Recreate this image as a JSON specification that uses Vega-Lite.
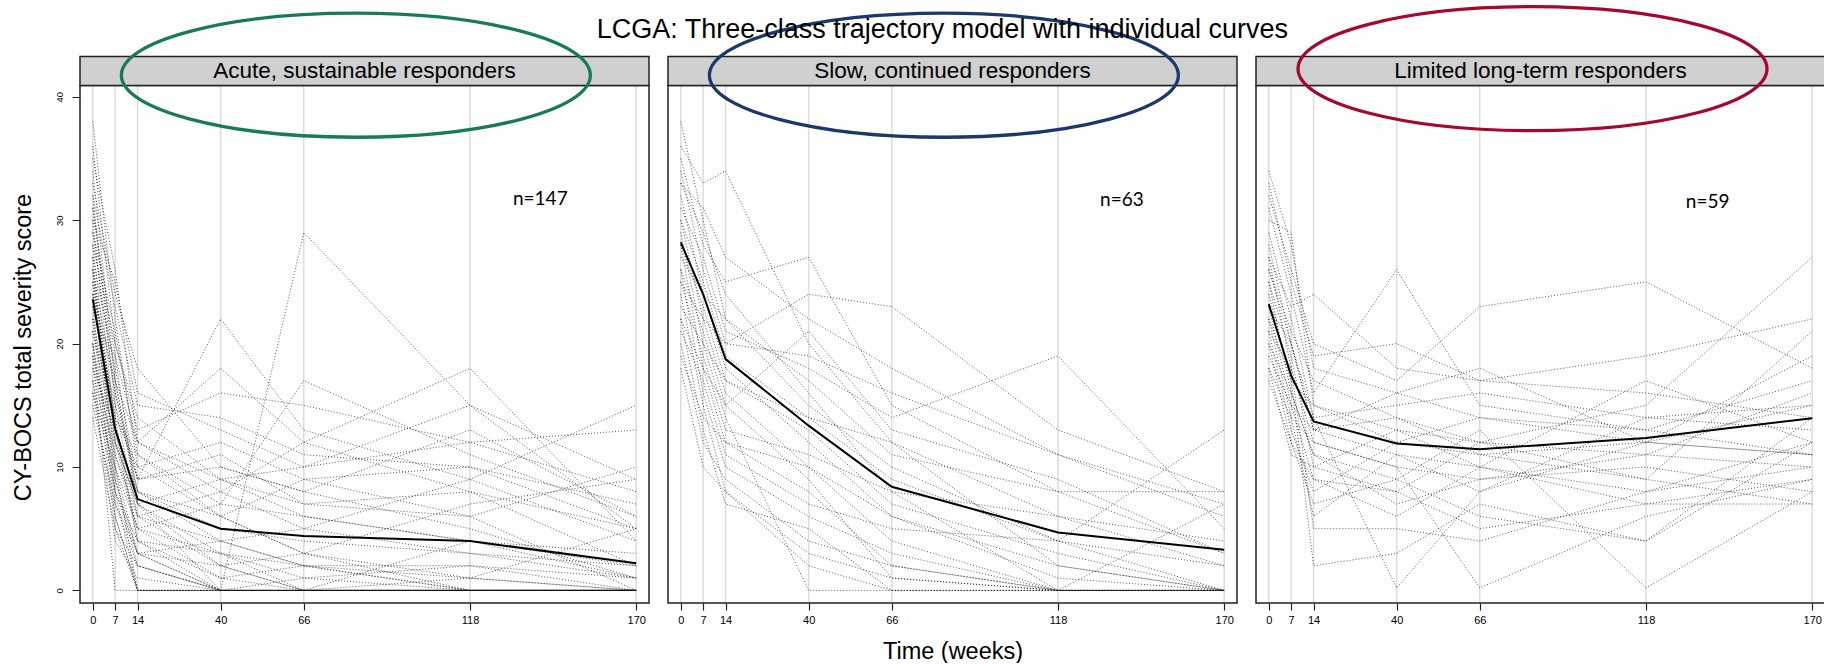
{
"$schema":"https://vega.github.io/schema/vega-lite/v6.json",
"padding":{"left":11,"top":0,"right":0,"bottom":0},
"autosize":{"type":"pad"},
"bounds":"flush",
"spacing":19,
"title":{"text":"LCGA: Three-class trajectory model with individual curves","font":"Liberation Sans","fontSize":27,"fontWeight":"normal","color":"#000","anchor":"middle","offset":-44,"dx":24},
"config":{"view":{"stroke":null},"font":"Liberation Sans"},
"datasets":{
"ticks":[{"t":0},{"t":7},{"t":14},{"t":40},{"t":66},{"t":118},{"t":170}],
"info":[{"c":1,"label":"Acute, sustainable responders","n":"n=147"},{"c":2,"label":"Slow, continued responders","n":"n=63"},{"c":3,"label":"Limited long-term responders","n":"n=59"}],
"mean":[
{"c":1,"t":0,"y":23.6},{"c":1,"t":7,"y":13.1},{"c":1,"t":14,"y":7.4},{"c":1,"t":40,"y":5.0},{"c":1,"t":66,"y":4.4},{"c":1,"t":118,"y":4.0},{"c":1,"t":170,"y":2.2},
{"c":2,"t":0,"y":28.2},{"c":2,"t":7,"y":24.0},{"c":2,"t":14,"y":18.75},{"c":2,"t":40,"y":13.35},{"c":2,"t":66,"y":8.4},{"c":2,"t":118,"y":4.7},{"c":2,"t":170,"y":3.3},
{"c":3,"t":0,"y":23.2},{"c":3,"t":7,"y":17.4},{"c":3,"t":14,"y":13.7},{"c":3,"t":40,"y":11.9},{"c":3,"t":66,"y":11.45},{"c":3,"t":118,"y":12.35},{"c":3,"t":170,"y":13.95}],
"ind":[
{"c":1,"id":1,"t":0,"y":38},{"c":1,"id":1,"t":7,"y":22},{"c":1,"id":1,"t":14,"y":10},{"c":1,"id":1,"t":40,"y":6},{"c":1,"id":1,"t":66,"y":3},{"c":1,"id":1,"t":118,"y":1},{"c":1,"id":1,"t":170,"y":0},
{"c":1,"id":2,"t":0,"y":36},{"c":1,"id":2,"t":7,"y":20},{"c":1,"id":2,"t":14,"y":14},{"c":1,"id":2,"t":40,"y":9},{"c":1,"id":2,"t":66,"y":6},{"c":1,"id":2,"t":118,"y":4},{"c":1,"id":2,"t":170,"y":2},
{"c":1,"id":3,"t":0,"y":34},{"c":1,"id":3,"t":7,"y":17},{"c":1,"id":3,"t":14,"y":8},{"c":1,"id":3,"t":40,"y":4},{"c":1,"id":3,"t":66,"y":2},{"c":1,"id":3,"t":118,"y":0},{"c":1,"id":3,"t":170,"y":0},
{"c":1,"id":4,"t":0,"y":33},{"c":1,"id":4,"t":7,"y":24},{"c":1,"id":4,"t":14,"y":18},{"c":1,"id":4,"t":40,"y":10},{"c":1,"id":4,"t":66,"y":8},{"c":1,"id":4,"t":118,"y":5},{"c":1,"id":4,"t":170,"y":1},
{"c":1,"id":5,"t":0,"y":32},{"c":1,"id":5,"t":7,"y":15},{"c":1,"id":5,"t":14,"y":6},{"c":1,"id":5,"t":40,"y":2},{"c":1,"id":5,"t":66,"y":0},{"c":1,"id":5,"t":118,"y":0},{"c":1,"id":5,"t":170,"y":0},
{"c":1,"id":6,"t":0,"y":31},{"c":1,"id":6,"t":7,"y":19},{"c":1,"id":6,"t":14,"y":12},{"c":1,"id":6,"t":40,"y":18},{"c":1,"id":6,"t":66,"y":12},{"c":1,"id":6,"t":118,"y":8},{"c":1,"id":6,"t":170,"y":5},
{"c":1,"id":7,"t":0,"y":30},{"c":1,"id":7,"t":7,"y":13},{"c":1,"id":7,"t":14,"y":4},{"c":1,"id":7,"t":40,"y":0},{"c":1,"id":7,"t":66,"y":0},{"c":1,"id":7,"t":118,"y":0},{"c":1,"id":7,"t":170,"y":0},
{"c":1,"id":8,"t":0,"y":29},{"c":1,"id":8,"t":7,"y":21},{"c":1,"id":8,"t":14,"y":11},{"c":1,"id":8,"t":40,"y":7},{"c":1,"id":8,"t":66,"y":17},{"c":1,"id":8,"t":118,"y":11},{"c":1,"id":8,"t":170,"y":6},
{"c":1,"id":9,"t":0,"y":28},{"c":1,"id":9,"t":7,"y":12},{"c":1,"id":9,"t":14,"y":7},{"c":1,"id":9,"t":40,"y":0},{"c":1,"id":9,"t":66,"y":29},{"c":1,"id":9,"t":118,"y":15},{"c":1,"id":9,"t":170,"y":5},
{"c":1,"id":10,"t":0,"y":27},{"c":1,"id":10,"t":7,"y":18},{"c":1,"id":10,"t":14,"y":9},{"c":1,"id":10,"t":40,"y":22},{"c":1,"id":10,"t":66,"y":13},{"c":1,"id":10,"t":118,"y":9},{"c":1,"id":10,"t":170,"y":4},
{"c":1,"id":11,"t":0,"y":27},{"c":1,"id":11,"t":7,"y":10},{"c":1,"id":11,"t":14,"y":0},{"c":1,"id":11,"t":40,"y":0},{"c":1,"id":11,"t":66,"y":0},{"c":1,"id":11,"t":118,"y":0},{"c":1,"id":11,"t":170,"y":0},
{"c":1,"id":12,"t":0,"y":26},{"c":1,"id":12,"t":7,"y":16},{"c":1,"id":12,"t":14,"y":8},{"c":1,"id":12,"t":40,"y":5},{"c":1,"id":12,"t":66,"y":4},{"c":1,"id":12,"t":118,"y":3},{"c":1,"id":12,"t":170,"y":1},
{"c":1,"id":13,"t":0,"y":26},{"c":1,"id":13,"t":7,"y":9},{"c":1,"id":13,"t":14,"y":3},{"c":1,"id":13,"t":40,"y":0},{"c":1,"id":13,"t":66,"y":0},{"c":1,"id":13,"t":118,"y":0},{"c":1,"id":13,"t":170,"y":0},
{"c":1,"id":14,"t":0,"y":25},{"c":1,"id":14,"t":7,"y":14},{"c":1,"id":14,"t":14,"y":10},{"c":1,"id":14,"t":40,"y":12},{"c":1,"id":14,"t":66,"y":9},{"c":1,"id":14,"t":118,"y":10},{"c":1,"id":14,"t":170,"y":7},
{"c":1,"id":15,"t":0,"y":25},{"c":1,"id":15,"t":7,"y":8},{"c":1,"id":15,"t":14,"y":0},{"c":1,"id":15,"t":40,"y":0},{"c":1,"id":15,"t":66,"y":0},{"c":1,"id":15,"t":118,"y":0},{"c":1,"id":15,"t":170,"y":0},
{"c":1,"id":16,"t":0,"y":24},{"c":1,"id":16,"t":7,"y":17},{"c":1,"id":16,"t":14,"y":12},{"c":1,"id":16,"t":40,"y":8},{"c":1,"id":16,"t":66,"y":12},{"c":1,"id":16,"t":118,"y":18},{"c":1,"id":16,"t":170,"y":4},
{"c":1,"id":17,"t":0,"y":24},{"c":1,"id":17,"t":7,"y":11},{"c":1,"id":17,"t":14,"y":5},{"c":1,"id":17,"t":40,"y":3},{"c":1,"id":17,"t":66,"y":1},{"c":1,"id":17,"t":118,"y":0},{"c":1,"id":17,"t":170,"y":0},
{"c":1,"id":18,"t":0,"y":23},{"c":1,"id":18,"t":7,"y":7},{"c":1,"id":18,"t":14,"y":2},{"c":1,"id":18,"t":40,"y":0},{"c":1,"id":18,"t":66,"y":0},{"c":1,"id":18,"t":118,"y":0},{"c":1,"id":18,"t":170,"y":0},
{"c":1,"id":19,"t":0,"y":23},{"c":1,"id":19,"t":7,"y":15},{"c":1,"id":19,"t":14,"y":9},{"c":1,"id":19,"t":40,"y":11},{"c":1,"id":19,"t":66,"y":7},{"c":1,"id":19,"t":118,"y":6},{"c":1,"id":19,"t":170,"y":10},
{"c":1,"id":20,"t":0,"y":22},{"c":1,"id":20,"t":7,"y":13},{"c":1,"id":20,"t":14,"y":6},{"c":1,"id":20,"t":40,"y":4},{"c":1,"id":20,"t":66,"y":5},{"c":1,"id":20,"t":118,"y":9},{"c":1,"id":20,"t":170,"y":15},
{"c":1,"id":21,"t":0,"y":22},{"c":1,"id":21,"t":7,"y":6},{"c":1,"id":21,"t":14,"y":0},{"c":1,"id":21,"t":40,"y":0},{"c":1,"id":21,"t":66,"y":0},{"c":1,"id":21,"t":118,"y":0},{"c":1,"id":21,"t":170,"y":0},
{"c":1,"id":22,"t":0,"y":21},{"c":1,"id":22,"t":7,"y":12},{"c":1,"id":22,"t":14,"y":7},{"c":1,"id":22,"t":40,"y":9},{"c":1,"id":22,"t":66,"y":10},{"c":1,"id":22,"t":118,"y":12},{"c":1,"id":22,"t":170,"y":13},
{"c":1,"id":23,"t":0,"y":21},{"c":1,"id":23,"t":7,"y":14},{"c":1,"id":23,"t":14,"y":4},{"c":1,"id":23,"t":40,"y":1},{"c":1,"id":23,"t":66,"y":0},{"c":1,"id":23,"t":118,"y":4},{"c":1,"id":23,"t":170,"y":1},
{"c":1,"id":24,"t":0,"y":20},{"c":1,"id":24,"t":7,"y":10},{"c":1,"id":24,"t":14,"y":3},{"c":1,"id":24,"t":40,"y":2},{"c":1,"id":24,"t":66,"y":3},{"c":1,"id":24,"t":118,"y":0},{"c":1,"id":24,"t":170,"y":0},
{"c":1,"id":25,"t":0,"y":20},{"c":1,"id":25,"t":7,"y":5},{"c":1,"id":25,"t":14,"y":0},{"c":1,"id":25,"t":40,"y":0},{"c":1,"id":25,"t":66,"y":0},{"c":1,"id":25,"t":118,"y":0},{"c":1,"id":25,"t":170,"y":0},
{"c":1,"id":26,"t":0,"y":19},{"c":1,"id":26,"t":7,"y":11},{"c":1,"id":26,"t":14,"y":6},{"c":1,"id":26,"t":40,"y":8},{"c":1,"id":26,"t":66,"y":5},{"c":1,"id":26,"t":118,"y":3},{"c":1,"id":26,"t":170,"y":2},
{"c":1,"id":27,"t":0,"y":19},{"c":1,"id":27,"t":7,"y":0},{"c":1,"id":27,"t":14,"y":0},{"c":1,"id":27,"t":40,"y":0},{"c":1,"id":27,"t":66,"y":0},{"c":1,"id":27,"t":118,"y":0},{"c":1,"id":27,"t":170,"y":0},
{"c":1,"id":28,"t":0,"y":18},{"c":1,"id":28,"t":7,"y":9},{"c":1,"id":28,"t":14,"y":2},{"c":1,"id":28,"t":40,"y":0},{"c":1,"id":28,"t":66,"y":1},{"c":1,"id":28,"t":118,"y":2},{"c":1,"id":28,"t":170,"y":0},
{"c":1,"id":29,"t":0,"y":18},{"c":1,"id":29,"t":7,"y":13},{"c":1,"id":29,"t":14,"y":8},{"c":1,"id":29,"t":40,"y":6},{"c":1,"id":29,"t":66,"y":3},{"c":1,"id":29,"t":118,"y":7},{"c":1,"id":29,"t":170,"y":9},
{"c":1,"id":30,"t":0,"y":17},{"c":1,"id":30,"t":7,"y":8},{"c":1,"id":30,"t":14,"y":4},{"c":1,"id":30,"t":40,"y":3},{"c":1,"id":30,"t":66,"y":0},{"c":1,"id":30,"t":118,"y":0},{"c":1,"id":30,"t":170,"y":0},
{"c":1,"id":31,"t":0,"y":17},{"c":1,"id":31,"t":7,"y":4},{"c":1,"id":31,"t":14,"y":1},{"c":1,"id":31,"t":40,"y":0},{"c":1,"id":31,"t":66,"y":0},{"c":1,"id":31,"t":118,"y":0},{"c":1,"id":31,"t":170,"y":0},
{"c":1,"id":32,"t":0,"y":16},{"c":1,"id":32,"t":7,"y":10},{"c":1,"id":32,"t":14,"y":5},{"c":1,"id":32,"t":40,"y":7},{"c":1,"id":32,"t":66,"y":6},{"c":1,"id":32,"t":118,"y":4},{"c":1,"id":32,"t":170,"y":3},
{"c":1,"id":33,"t":0,"y":16},{"c":1,"id":33,"t":7,"y":6},{"c":1,"id":33,"t":14,"y":0},{"c":1,"id":33,"t":40,"y":0},{"c":1,"id":33,"t":66,"y":0},{"c":1,"id":33,"t":118,"y":0},{"c":1,"id":33,"t":170,"y":0},
{"c":1,"id":34,"t":0,"y":15},{"c":1,"id":34,"t":7,"y":7},{"c":1,"id":34,"t":14,"y":3},{"c":1,"id":34,"t":40,"y":4},{"c":1,"id":34,"t":66,"y":2},{"c":1,"id":34,"t":118,"y":1},{"c":1,"id":34,"t":170,"y":0},
{"c":1,"id":35,"t":0,"y":14},{"c":1,"id":35,"t":7,"y":5},{"c":1,"id":35,"t":14,"y":2},{"c":1,"id":35,"t":40,"y":0},{"c":1,"id":35,"t":66,"y":0},{"c":1,"id":35,"t":118,"y":0},{"c":1,"id":35,"t":170,"y":0},
{"c":1,"id":36,"t":0,"y":30},{"c":1,"id":36,"t":7,"y":25},{"c":1,"id":36,"t":14,"y":16},{"c":1,"id":36,"t":40,"y":13},{"c":1,"id":36,"t":66,"y":10},{"c":1,"id":36,"t":118,"y":15},{"c":1,"id":36,"t":170,"y":9},
{"c":1,"id":37,"t":0,"y":28},{"c":1,"id":37,"t":7,"y":20},{"c":1,"id":37,"t":14,"y":13},{"c":1,"id":37,"t":40,"y":16},{"c":1,"id":37,"t":66,"y":15},{"c":1,"id":37,"t":118,"y":12},{"c":1,"id":37,"t":170,"y":8},
{"c":1,"id":38,"t":0,"y":32},{"c":1,"id":38,"t":7,"y":23},{"c":1,"id":38,"t":14,"y":15},{"c":1,"id":38,"t":40,"y":14},{"c":1,"id":38,"t":66,"y":11},{"c":1,"id":38,"t":118,"y":10},{"c":1,"id":38,"t":170,"y":5},
{"c":1,"id":39,"t":0,"y":35},{"c":1,"id":39,"t":7,"y":26},{"c":1,"id":39,"t":14,"y":12},{"c":1,"id":39,"t":40,"y":9},{"c":1,"id":39,"t":66,"y":7},{"c":1,"id":39,"t":118,"y":8},{"c":1,"id":39,"t":170,"y":2},
{"c":1,"id":40,"t":0,"y":29},{"c":1,"id":40,"t":7,"y":16},{"c":1,"id":40,"t":14,"y":9},{"c":1,"id":40,"t":40,"y":10},{"c":1,"id":40,"t":66,"y":8},{"c":1,"id":40,"t":118,"y":13},{"c":1,"id":40,"t":170,"y":6},
{"c":1,"id":41,"t":0,"y":24},{"c":1,"id":41,"t":7,"y":14},{"c":1,"id":41,"t":14,"y":11},{"c":1,"id":41,"t":40,"y":6},{"c":1,"id":41,"t":66,"y":9},{"c":1,"id":41,"t":118,"y":6},{"c":1,"id":41,"t":170,"y":0},
{"c":1,"id":42,"t":0,"y":22},{"c":1,"id":42,"t":7,"y":19},{"c":1,"id":42,"t":14,"y":7},{"c":1,"id":42,"t":40,"y":2},{"c":1,"id":42,"t":66,"y":0},{"c":1,"id":42,"t":118,"y":1},{"c":1,"id":42,"t":170,"y":5},
{"c":1,"id":43,"t":0,"y":20},{"c":1,"id":43,"t":7,"y":8},{"c":1,"id":43,"t":14,"y":3},{"c":1,"id":43,"t":40,"y":0},{"c":1,"id":43,"t":66,"y":0},{"c":1,"id":43,"t":118,"y":0},{"c":1,"id":43,"t":170,"y":0},
{"c":1,"id":44,"t":0,"y":26},{"c":1,"id":44,"t":7,"y":12},{"c":1,"id":44,"t":14,"y":5},{"c":1,"id":44,"t":40,"y":1},{"c":1,"id":44,"t":66,"y":2},{"c":1,"id":44,"t":118,"y":0},{"c":1,"id":44,"t":170,"y":0},
{"c":1,"id":45,"t":0,"y":31},{"c":1,"id":45,"t":7,"y":17},{"c":1,"id":45,"t":14,"y":7},{"c":1,"id":45,"t":40,"y":3},{"c":1,"id":45,"t":66,"y":2},{"c":1,"id":45,"t":118,"y":2},{"c":1,"id":45,"t":170,"y":1},
{"c":2,"id":1,"t":0,"y":38},{"c":2,"id":1,"t":7,"y":30},{"c":2,"id":1,"t":14,"y":22},{"c":2,"id":1,"t":40,"y":15},{"c":2,"id":1,"t":66,"y":10},{"c":2,"id":1,"t":118,"y":4},{"c":2,"id":1,"t":170,"y":0},
{"c":2,"id":2,"t":0,"y":36},{"c":2,"id":2,"t":7,"y":33},{"c":2,"id":2,"t":14,"y":34},{"c":2,"id":2,"t":40,"y":20},{"c":2,"id":2,"t":66,"y":12},{"c":2,"id":2,"t":118,"y":6},{"c":2,"id":2,"t":170,"y":2},
{"c":2,"id":3,"t":0,"y":35},{"c":2,"id":3,"t":7,"y":28},{"c":2,"id":3,"t":14,"y":25},{"c":2,"id":3,"t":40,"y":27},{"c":2,"id":3,"t":66,"y":15},{"c":2,"id":3,"t":118,"y":8},{"c":2,"id":3,"t":170,"y":3},
{"c":2,"id":4,"t":0,"y":34},{"c":2,"id":4,"t":7,"y":26},{"c":2,"id":4,"t":14,"y":20},{"c":2,"id":4,"t":40,"y":24},{"c":2,"id":4,"t":66,"y":23},{"c":2,"id":4,"t":118,"y":13},{"c":2,"id":4,"t":170,"y":8},
{"c":2,"id":5,"t":0,"y":33},{"c":2,"id":5,"t":7,"y":29},{"c":2,"id":5,"t":14,"y":24},{"c":2,"id":5,"t":40,"y":16},{"c":2,"id":5,"t":66,"y":8},{"c":2,"id":5,"t":118,"y":0},{"c":2,"id":5,"t":170,"y":0},
{"c":2,"id":6,"t":0,"y":32},{"c":2,"id":6,"t":7,"y":24},{"c":2,"id":6,"t":14,"y":18},{"c":2,"id":6,"t":40,"y":12},{"c":2,"id":6,"t":66,"y":6},{"c":2,"id":6,"t":118,"y":2},{"c":2,"id":6,"t":170,"y":0},
{"c":2,"id":7,"t":0,"y":31},{"c":2,"id":7,"t":7,"y":27},{"c":2,"id":7,"t":14,"y":21},{"c":2,"id":7,"t":40,"y":18},{"c":2,"id":7,"t":66,"y":14},{"c":2,"id":7,"t":118,"y":19},{"c":2,"id":7,"t":170,"y":5},
{"c":2,"id":8,"t":0,"y":30},{"c":2,"id":8,"t":7,"y":22},{"c":2,"id":8,"t":14,"y":16},{"c":2,"id":8,"t":40,"y":10},{"c":2,"id":8,"t":66,"y":4},{"c":2,"id":8,"t":118,"y":0},{"c":2,"id":8,"t":170,"y":0},
{"c":2,"id":9,"t":0,"y":30},{"c":2,"id":9,"t":7,"y":25},{"c":2,"id":9,"t":14,"y":19},{"c":2,"id":9,"t":40,"y":14},{"c":2,"id":9,"t":66,"y":9},{"c":2,"id":9,"t":118,"y":4},{"c":2,"id":9,"t":170,"y":13},
{"c":2,"id":10,"t":0,"y":29},{"c":2,"id":10,"t":7,"y":20},{"c":2,"id":10,"t":14,"y":14},{"c":2,"id":10,"t":40,"y":0},{"c":2,"id":10,"t":66,"y":0},{"c":2,"id":10,"t":118,"y":0},{"c":2,"id":10,"t":170,"y":0},
{"c":2,"id":11,"t":0,"y":28},{"c":2,"id":11,"t":7,"y":23},{"c":2,"id":11,"t":14,"y":17},{"c":2,"id":11,"t":40,"y":13},{"c":2,"id":11,"t":66,"y":7},{"c":2,"id":11,"t":118,"y":3},{"c":2,"id":11,"t":170,"y":0},
{"c":2,"id":12,"t":0,"y":28},{"c":2,"id":12,"t":7,"y":18},{"c":2,"id":12,"t":14,"y":12},{"c":2,"id":12,"t":40,"y":8},{"c":2,"id":12,"t":66,"y":2},{"c":2,"id":12,"t":118,"y":0},{"c":2,"id":12,"t":170,"y":0},
{"c":2,"id":13,"t":0,"y":27},{"c":2,"id":13,"t":7,"y":24},{"c":2,"id":13,"t":14,"y":22},{"c":2,"id":13,"t":40,"y":17},{"c":2,"id":13,"t":66,"y":11},{"c":2,"id":13,"t":118,"y":8},{"c":2,"id":13,"t":170,"y":8},
{"c":2,"id":14,"t":0,"y":26},{"c":2,"id":14,"t":7,"y":21},{"c":2,"id":14,"t":14,"y":15},{"c":2,"id":14,"t":40,"y":9},{"c":2,"id":14,"t":66,"y":1},{"c":2,"id":14,"t":118,"y":0},{"c":2,"id":14,"t":170,"y":7},
{"c":2,"id":15,"t":0,"y":26},{"c":2,"id":15,"t":7,"y":16},{"c":2,"id":15,"t":14,"y":10},{"c":2,"id":15,"t":40,"y":6},{"c":2,"id":15,"t":66,"y":3},{"c":2,"id":15,"t":118,"y":0},{"c":2,"id":15,"t":170,"y":0},
{"c":2,"id":16,"t":0,"y":25},{"c":2,"id":16,"t":7,"y":22},{"c":2,"id":16,"t":14,"y":20},{"c":2,"id":16,"t":40,"y":19},{"c":2,"id":16,"t":66,"y":16},{"c":2,"id":16,"t":118,"y":11},{"c":2,"id":16,"t":170,"y":6},
{"c":2,"id":17,"t":0,"y":25},{"c":2,"id":17,"t":7,"y":19},{"c":2,"id":17,"t":14,"y":13},{"c":2,"id":17,"t":40,"y":11},{"c":2,"id":17,"t":66,"y":8},{"c":2,"id":17,"t":118,"y":6},{"c":2,"id":17,"t":170,"y":4},
{"c":2,"id":18,"t":0,"y":24},{"c":2,"id":18,"t":7,"y":15},{"c":2,"id":18,"t":14,"y":8},{"c":2,"id":18,"t":40,"y":3},{"c":2,"id":18,"t":66,"y":1},{"c":2,"id":18,"t":118,"y":0},{"c":2,"id":18,"t":170,"y":0},
{"c":2,"id":19,"t":0,"y":23},{"c":2,"id":19,"t":7,"y":20},{"c":2,"id":19,"t":14,"y":17},{"c":2,"id":19,"t":40,"y":14},{"c":2,"id":19,"t":66,"y":12},{"c":2,"id":19,"t":118,"y":2},{"c":2,"id":19,"t":170,"y":0},
{"c":2,"id":20,"t":0,"y":22},{"c":2,"id":20,"t":7,"y":13},{"c":2,"id":20,"t":14,"y":7},{"c":2,"id":20,"t":40,"y":5},{"c":2,"id":20,"t":66,"y":0},{"c":2,"id":20,"t":118,"y":0},{"c":2,"id":20,"t":170,"y":0},
{"c":2,"id":21,"t":0,"y":22},{"c":2,"id":21,"t":7,"y":18},{"c":2,"id":21,"t":14,"y":15},{"c":2,"id":21,"t":40,"y":21},{"c":2,"id":21,"t":66,"y":13},{"c":2,"id":21,"t":118,"y":9},{"c":2,"id":21,"t":170,"y":3},
{"c":2,"id":22,"t":0,"y":21},{"c":2,"id":22,"t":7,"y":17},{"c":2,"id":22,"t":14,"y":11},{"c":2,"id":22,"t":40,"y":7},{"c":2,"id":22,"t":66,"y":5},{"c":2,"id":22,"t":118,"y":4},{"c":2,"id":22,"t":170,"y":2},
{"c":2,"id":23,"t":0,"y":20},{"c":2,"id":23,"t":7,"y":12},{"c":2,"id":23,"t":14,"y":9},{"c":2,"id":23,"t":40,"y":4},{"c":2,"id":23,"t":66,"y":2},{"c":2,"id":23,"t":118,"y":0},{"c":2,"id":23,"t":170,"y":0},
{"c":2,"id":24,"t":0,"y":19},{"c":2,"id":24,"t":7,"y":14},{"c":2,"id":24,"t":14,"y":12},{"c":2,"id":24,"t":40,"y":10},{"c":2,"id":24,"t":66,"y":6},{"c":2,"id":24,"t":118,"y":1},{"c":2,"id":24,"t":170,"y":0},
{"c":2,"id":25,"t":0,"y":18},{"c":2,"id":25,"t":7,"y":10},{"c":2,"id":25,"t":14,"y":8},{"c":2,"id":25,"t":40,"y":2},{"c":2,"id":25,"t":66,"y":0},{"c":2,"id":25,"t":118,"y":0},{"c":2,"id":25,"t":170,"y":0},
{"c":2,"id":26,"t":0,"y":33},{"c":2,"id":26,"t":7,"y":31},{"c":2,"id":26,"t":14,"y":27},{"c":2,"id":26,"t":40,"y":22},{"c":2,"id":26,"t":66,"y":18},{"c":2,"id":26,"t":118,"y":11},{"c":2,"id":26,"t":170,"y":7},
{"c":3,"id":1,"t":0,"y":34},{"c":3,"id":1,"t":7,"y":28},{"c":3,"id":1,"t":14,"y":18},{"c":3,"id":1,"t":40,"y":16},{"c":3,"id":1,"t":66,"y":14},{"c":3,"id":1,"t":118,"y":12},{"c":3,"id":1,"t":170,"y":15},
{"c":3,"id":2,"t":0,"y":32},{"c":3,"id":2,"t":7,"y":26},{"c":3,"id":2,"t":14,"y":20},{"c":3,"id":2,"t":40,"y":17},{"c":3,"id":2,"t":66,"y":23},{"c":3,"id":2,"t":118,"y":25},{"c":3,"id":2,"t":170,"y":18},
{"c":3,"id":3,"t":0,"y":31},{"c":3,"id":3,"t":7,"y":24},{"c":3,"id":3,"t":14,"y":16},{"c":3,"id":3,"t":40,"y":26},{"c":3,"id":3,"t":66,"y":15},{"c":3,"id":3,"t":118,"y":13},{"c":3,"id":3,"t":170,"y":17},
{"c":3,"id":4,"t":0,"y":30},{"c":3,"id":4,"t":7,"y":29},{"c":3,"id":4,"t":14,"y":15},{"c":3,"id":4,"t":40,"y":12},{"c":3,"id":4,"t":66,"y":11},{"c":3,"id":4,"t":118,"y":9},{"c":3,"id":4,"t":170,"y":21},
{"c":3,"id":5,"t":0,"y":29},{"c":3,"id":5,"t":7,"y":22},{"c":3,"id":5,"t":14,"y":14},{"c":3,"id":5,"t":40,"y":0.2},{"c":3,"id":5,"t":66,"y":8},{"c":3,"id":5,"t":118,"y":12},{"c":3,"id":5,"t":170,"y":11},
{"c":3,"id":6,"t":0,"y":28},{"c":3,"id":6,"t":7,"y":20},{"c":3,"id":6,"t":14,"y":13},{"c":3,"id":6,"t":40,"y":11},{"c":3,"id":6,"t":66,"y":10},{"c":3,"id":6,"t":118,"y":8},{"c":3,"id":6,"t":170,"y":12},
{"c":3,"id":7,"t":0,"y":27},{"c":3,"id":7,"t":7,"y":23},{"c":3,"id":7,"t":14,"y":24},{"c":3,"id":7,"t":40,"y":18},{"c":3,"id":7,"t":66,"y":17},{"c":3,"id":7,"t":118,"y":16},{"c":3,"id":7,"t":170,"y":14},
{"c":3,"id":8,"t":0,"y":27},{"c":3,"id":8,"t":7,"y":18},{"c":3,"id":8,"t":14,"y":12},{"c":3,"id":8,"t":40,"y":10},{"c":3,"id":8,"t":66,"y":0.2},{"c":3,"id":8,"t":118,"y":6},{"c":3,"id":8,"t":170,"y":9},
{"c":3,"id":9,"t":0,"y":26},{"c":3,"id":9,"t":7,"y":21},{"c":3,"id":9,"t":14,"y":17},{"c":3,"id":9,"t":40,"y":14},{"c":3,"id":9,"t":66,"y":12},{"c":3,"id":9,"t":118,"y":15},{"c":3,"id":9,"t":170,"y":27},
{"c":3,"id":10,"t":0,"y":25},{"c":3,"id":10,"t":7,"y":16},{"c":3,"id":10,"t":14,"y":11},{"c":3,"id":10,"t":40,"y":9},{"c":3,"id":10,"t":66,"y":13},{"c":3,"id":10,"t":118,"y":0.2},{"c":3,"id":10,"t":170,"y":8},
{"c":3,"id":11,"t":0,"y":25},{"c":3,"id":11,"t":7,"y":19},{"c":3,"id":11,"t":14,"y":10},{"c":3,"id":11,"t":40,"y":13},{"c":3,"id":11,"t":66,"y":12},{"c":3,"id":11,"t":118,"y":11},{"c":3,"id":11,"t":170,"y":10},
{"c":3,"id":12,"t":0,"y":24},{"c":3,"id":12,"t":7,"y":17},{"c":3,"id":12,"t":14,"y":2},{"c":3,"id":12,"t":40,"y":3},{"c":3,"id":12,"t":66,"y":7},{"c":3,"id":12,"t":118,"y":4},{"c":3,"id":12,"t":170,"y":12},
{"c":3,"id":13,"t":0,"y":23},{"c":3,"id":13,"t":7,"y":15},{"c":3,"id":13,"t":14,"y":9},{"c":3,"id":13,"t":40,"y":8},{"c":3,"id":13,"t":66,"y":5},{"c":3,"id":13,"t":118,"y":7},{"c":3,"id":13,"t":170,"y":7},
{"c":3,"id":14,"t":0,"y":23},{"c":3,"id":14,"t":7,"y":20},{"c":3,"id":14,"t":14,"y":14},{"c":3,"id":14,"t":40,"y":15},{"c":3,"id":14,"t":66,"y":16},{"c":3,"id":14,"t":118,"y":14},{"c":3,"id":14,"t":170,"y":13},
{"c":3,"id":15,"t":0,"y":22},{"c":3,"id":15,"t":7,"y":14},{"c":3,"id":15,"t":14,"y":12},{"c":3,"id":15,"t":40,"y":10},{"c":3,"id":15,"t":66,"y":9},{"c":3,"id":15,"t":118,"y":11},{"c":3,"id":15,"t":170,"y":16},
{"c":3,"id":16,"t":0,"y":21},{"c":3,"id":16,"t":7,"y":18},{"c":3,"id":16,"t":14,"y":5},{"c":3,"id":16,"t":40,"y":5},{"c":3,"id":16,"t":66,"y":4},{"c":3,"id":16,"t":118,"y":8},{"c":3,"id":16,"t":170,"y":10},
{"c":3,"id":17,"t":0,"y":21},{"c":3,"id":17,"t":7,"y":13},{"c":3,"id":17,"t":14,"y":8},{"c":3,"id":17,"t":40,"y":12},{"c":3,"id":17,"t":66,"y":14},{"c":3,"id":17,"t":118,"y":13},{"c":3,"id":17,"t":170,"y":11},
{"c":3,"id":18,"t":0,"y":20},{"c":3,"id":18,"t":7,"y":16},{"c":3,"id":18,"t":14,"y":11},{"c":3,"id":18,"t":40,"y":7},{"c":3,"id":18,"t":66,"y":9},{"c":3,"id":18,"t":118,"y":10},{"c":3,"id":18,"t":170,"y":8},
{"c":3,"id":19,"t":0,"y":20},{"c":3,"id":19,"t":7,"y":12},{"c":3,"id":19,"t":14,"y":7},{"c":3,"id":19,"t":40,"y":9},{"c":3,"id":19,"t":66,"y":6},{"c":3,"id":19,"t":118,"y":4},{"c":3,"id":19,"t":170,"y":14},
{"c":3,"id":20,"t":0,"y":19},{"c":3,"id":20,"t":7,"y":15},{"c":3,"id":20,"t":14,"y":13},{"c":3,"id":20,"t":40,"y":14},{"c":3,"id":20,"t":66,"y":11},{"c":3,"id":20,"t":118,"y":12},{"c":3,"id":20,"t":170,"y":19},
{"c":3,"id":21,"t":0,"y":18},{"c":3,"id":21,"t":7,"y":11},{"c":3,"id":21,"t":14,"y":10},{"c":3,"id":21,"t":40,"y":8},{"c":3,"id":21,"t":66,"y":12},{"c":3,"id":21,"t":118,"y":9},{"c":3,"id":21,"t":170,"y":7},
{"c":3,"id":22,"t":0,"y":18},{"c":3,"id":22,"t":7,"y":14},{"c":3,"id":22,"t":14,"y":6},{"c":3,"id":22,"t":40,"y":11},{"c":3,"id":22,"t":66,"y":8},{"c":3,"id":22,"t":118,"y":14},{"c":3,"id":22,"t":170,"y":15},
{"c":3,"id":23,"t":0,"y":17},{"c":3,"id":23,"t":7,"y":12},{"c":3,"id":23,"t":14,"y":9},{"c":3,"id":23,"t":40,"y":6},{"c":3,"id":23,"t":66,"y":10},{"c":3,"id":23,"t":118,"y":7},{"c":3,"id":23,"t":170,"y":9},
{"c":3,"id":24,"t":0,"y":33},{"c":3,"id":24,"t":7,"y":25},{"c":3,"id":24,"t":14,"y":19},{"c":3,"id":24,"t":40,"y":20},{"c":3,"id":24,"t":66,"y":17},{"c":3,"id":24,"t":118,"y":19},{"c":3,"id":24,"t":170,"y":22},
{"c":3,"id":25,"t":0,"y":26},{"c":3,"id":25,"t":7,"y":20},{"c":3,"id":25,"t":14,"y":13},{"c":3,"id":25,"t":40,"y":16},{"c":3,"id":25,"t":66,"y":18},{"c":3,"id":25,"t":118,"y":12},{"c":3,"id":25,"t":170,"y":11},
{"c":3,"id":26,"t":0,"y":22},{"c":3,"id":26,"t":7,"y":17},{"c":3,"id":26,"t":14,"y":15},{"c":3,"id":26,"t":40,"y":13},{"c":3,"id":26,"t":66,"y":10},{"c":3,"id":26,"t":118,"y":17},{"c":3,"id":26,"t":170,"y":12}
]},
"hconcat":[
{"width":569,"height":597,
"layer":[
{"data":{"name":"ticks"},"mark":{"type":"rule","color":"#dcdcdc","strokeWidth":1.5},
 "encoding":{"x":{"field":"t","type":"quantitative","scale":{"domain":[-4,174],"nice":false,"zero":false},"axis":{"values":[0,7,14,40,66,118,170],"grid":false,"domain":false,"tickSize":7,"tickColor":"#222","tickWidth":1.2,"labelFontSize":11,"labelColor":"#000","labelPadding":4,"labelOverlap":false,"labelFlush":false,"title":null}},
 "y":{"datum":-1.02,"type":"quantitative","scale":{"domain":[-1.02,47.36],"nice":false,"zero":false},"axis":{"values":[0,10,20,30,40],"grid":false,"domain":false,"tickSize":8,"tickColor":"#222","labelAngle":-90,"labelFontSize":9.5,"labelColor":"#000","labelPadding":8,"title":"CY-BOCS total severity score","titleFontSize":23.5,"titleFontWeight":"normal","titleColor":"#000","titleX":-57,"titleY":341,"titleBaseline":"middle","titleAlign":"center","titleAngle":-90}},
 "y2":{"datum":40.92}}},
{"data":{"name":"ind"},"transform":[{"filter":"datum.c==1"}],"mark":{"type":"line","color":"#111","strokeWidth":1,"strokeDash":[1,2],"opacity":0.7},
 "encoding":{"x":{"field":"t","type":"quantitative"},"y":{"field":"y","type":"quantitative"},"detail":{"field":"id"}}},
{"data":{"name":"mean"},"transform":[{"filter":"datum.c==1"}],"mark":{"type":"line","color":"#000","strokeWidth":2},
 "encoding":{"x":{"field":"t","type":"quantitative"},"y":{"field":"y","type":"quantitative"}}},
{"data":{"name":"info"},"transform":[{"filter":"datum.c==1"}],"mark":{"type":"text","font":"Lato","fontSize":19,"align":"center","baseline":"middle","color":"#000"},
 "encoding":{"x":{"datum":140},"y":{"datum":31.7},"text":{"field":"n"}}},
{"data":{"name":"info"},"transform":[{"filter":"datum.c==1"}],"mark":{"type":"rect","filled":false,"stroke":"#222","strokeWidth":1.5},
 "encoding":{"x":{"datum":-4},"x2":{"datum":174},"y":{"datum":-1.02},"y2":{"datum":40.92}}},
{"data":{"name":"info"},"transform":[{"filter":"datum.c==1"}],"mark":{"type":"rect","fill":"#d0d0d0","stroke":"#222","strokeWidth":1.5},
 "encoding":{"x":{"datum":-4},"x2":{"datum":174},"y":{"datum":40.92},"y2":{"datum":43.27}}},
{"data":{"name":"info"},"transform":[{"filter":"datum.c==1"}],"mark":{"type":"text","fontSize":22.5,"align":"center","baseline":"middle","color":"#000"},
 "encoding":{"x":{"datum":85},"y":{"datum":42.1},"text":{"field":"label"}}},
{"data":{"name":"info"},"transform":[{"filter":"datum.c==1"}],"mark":{"type":"point","shape":"M -1 0 A 1 0.2644 0 1 0 1 0 A 1 0.2644 0 1 0 -1 0 Z","size":219961,"filled":false,"stroke":"#187a57","strokeWidth":3.3,"opacity":1},
 "encoding":{"x":{"datum":82.3},"y":{"datum":41.75}}}
]},
{"width":569,"height":597,
"layer":[
{"data":{"name":"ticks"},"mark":{"type":"rule","color":"#dcdcdc","strokeWidth":1.5},
 "encoding":{"x":{"field":"t","type":"quantitative","scale":{"domain":[-4,174],"nice":false,"zero":false},"axis":{"values":[0,7,14,40,66,118,170],"grid":false,"domain":false,"tickSize":7,"tickColor":"#222","tickWidth":1.2,"labelFontSize":11,"labelColor":"#000","labelPadding":4,"labelOverlap":false,"labelFlush":false,"title":"Time (weeks)","titleFontSize":23.5,"titleFontWeight":"normal","titleColor":"#000","titleY":48,"titleBaseline":"middle"}},
 "y":{"datum":-1.02,"type":"quantitative","scale":{"domain":[-1.02,47.36],"nice":false,"zero":false},"axis":null},
 "y2":{"datum":40.92}}},
{"data":{"name":"ind"},"transform":[{"filter":"datum.c==2"}],"mark":{"type":"line","color":"#111","strokeWidth":1,"strokeDash":[1,2],"opacity":0.7},
 "encoding":{"x":{"field":"t","type":"quantitative"},"y":{"field":"y","type":"quantitative","axis":null},"detail":{"field":"id"}}},
{"data":{"name":"mean"},"transform":[{"filter":"datum.c==2"}],"mark":{"type":"line","color":"#000","strokeWidth":2},
 "encoding":{"x":{"field":"t","type":"quantitative"},"y":{"field":"y","type":"quantitative","axis":null}}},
{"data":{"name":"info"},"transform":[{"filter":"datum.c==2"}],"mark":{"type":"text","font":"Lato","fontSize":19,"align":"center","baseline":"middle","color":"#000"},
 "encoding":{"x":{"datum":138},"y":{"datum":31.6,"axis":null},"text":{"field":"n"}}},
{"data":{"name":"info"},"transform":[{"filter":"datum.c==2"}],"mark":{"type":"rect","filled":false,"stroke":"#222","strokeWidth":1.5},
 "encoding":{"x":{"datum":-4},"x2":{"datum":174},"y":{"datum":-1.02,"axis":null},"y2":{"datum":40.92}}},
{"data":{"name":"info"},"transform":[{"filter":"datum.c==2"}],"mark":{"type":"rect","fill":"#d0d0d0","stroke":"#222","strokeWidth":1.5},
 "encoding":{"x":{"datum":-4},"x2":{"datum":174},"y":{"datum":40.92,"axis":null},"y2":{"datum":43.27}}},
{"data":{"name":"info"},"transform":[{"filter":"datum.c==2"}],"mark":{"type":"text","fontSize":22.5,"align":"center","baseline":"middle","color":"#000"},
 "encoding":{"x":{"datum":85},"y":{"datum":42.1,"axis":null},"text":{"field":"label"}}},
{"data":{"name":"info"},"transform":[{"filter":"datum.c==2"}],"mark":{"type":"point","shape":"M -1 0 A 1 0.2644 0 1 0 1 0 A 1 0.2644 0 1 0 -1 0 Z","size":219961,"filled":false,"stroke":"#1c3768","strokeWidth":3.3,"opacity":1},
 "encoding":{"x":{"datum":82.3},"y":{"datum":41.75,"axis":null}}}
]},
{"width":569,"height":597,
"layer":[
{"data":{"name":"ticks"},"mark":{"type":"rule","color":"#dcdcdc","strokeWidth":1.5},
 "encoding":{"x":{"field":"t","type":"quantitative","scale":{"domain":[-4,174],"nice":false,"zero":false},"axis":{"values":[0,7,14,40,66,118,170],"grid":false,"domain":false,"tickSize":7,"tickColor":"#222","tickWidth":1.2,"labelFontSize":11,"labelColor":"#000","labelPadding":4,"labelOverlap":false,"labelFlush":false,"title":null}},
 "y":{"datum":-1.02,"type":"quantitative","scale":{"domain":[-1.02,47.36],"nice":false,"zero":false},"axis":null},
 "y2":{"datum":40.92}}},
{"data":{"name":"ind"},"transform":[{"filter":"datum.c==3"}],"mark":{"type":"line","color":"#111","strokeWidth":1,"strokeDash":[1,2],"opacity":0.7},
 "encoding":{"x":{"field":"t","type":"quantitative"},"y":{"field":"y","type":"quantitative","axis":null},"detail":{"field":"id"}}},
{"data":{"name":"mean"},"transform":[{"filter":"datum.c==3"}],"mark":{"type":"line","color":"#000","strokeWidth":2},
 "encoding":{"x":{"field":"t","type":"quantitative"},"y":{"field":"y","type":"quantitative","axis":null}}},
{"data":{"name":"info"},"transform":[{"filter":"datum.c==3"}],"mark":{"type":"text","font":"Lato","fontSize":19,"align":"center","baseline":"middle","color":"#000"},
 "encoding":{"x":{"datum":137.3},"y":{"datum":31.5,"axis":null},"text":{"field":"n"}}},
{"data":{"name":"info"},"transform":[{"filter":"datum.c==3"}],"mark":{"type":"rect","filled":false,"stroke":"#222","strokeWidth":1.5},
 "encoding":{"x":{"datum":-4},"x2":{"datum":174},"y":{"datum":-1.02,"axis":null},"y2":{"datum":40.92}}},
{"data":{"name":"info"},"transform":[{"filter":"datum.c==3"}],"mark":{"type":"rect","fill":"#d0d0d0","stroke":"#222","strokeWidth":1.5},
 "encoding":{"x":{"datum":-4},"x2":{"datum":174},"y":{"datum":40.92,"axis":null},"y2":{"datum":43.27}}},
{"data":{"name":"info"},"transform":[{"filter":"datum.c==3"}],"mark":{"type":"text","fontSize":22.5,"align":"center","baseline":"middle","color":"#000"},
 "encoding":{"x":{"datum":85},"y":{"datum":42.1,"axis":null},"text":{"field":"label"}}},
{"data":{"name":"info"},"transform":[{"filter":"datum.c==3"}],"mark":{"type":"point","shape":"M -1 0 A 1 0.2644 0 1 0 1 0 A 1 0.2644 0 1 0 -1 0 Z","size":219961,"filled":false,"stroke":"#a3092d","strokeWidth":3.3,"opacity":1},
 "encoding":{"x":{"datum":82.5},"y":{"datum":42.28,"axis":null}}}
]}
]
}
